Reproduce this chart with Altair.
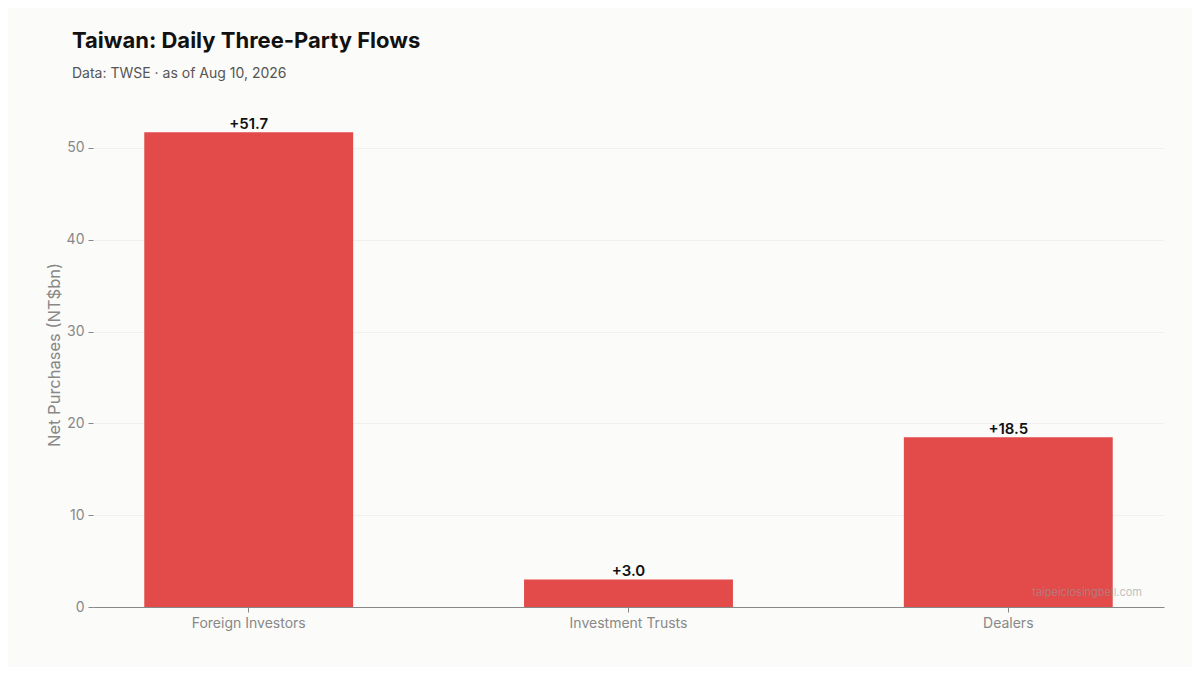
import altair as alt
import pandas as pd

categories = ["Foreign Investors", "Investment Trusts", "Dealers"]
values = [51.7, 3.0, 18.5]

df = pd.DataFrame({"party": categories, "value": values})

W, H = 1071, 505
FONT = "Inter"

base = alt.Chart(df)

bars = base.mark_bar(color="#E34A4A").encode(
    x=alt.X("party:N", sort=categories, title=None,
            scale=alt.Scale(paddingInner=0.45, paddingOuter=0.135),
            axis=alt.Axis(labelAngle=0, labelColor="#888888", labelFontSize=14,
                          labelFont=FONT, tickColor="#888888", tickSize=5,
                          domainColor="#888888", labelPadding=4, grid=False)),
    y=alt.Y("value:Q", title="Net Purchases (NT$bn)",
            scale=alt.Scale(domain=[0, 55], nice=False),
            axis=alt.Axis(values=[0, 10, 20, 30, 40, 50], labelColor="#888888",
                          labelFontSize=14, labelFont=FONT, tickColor="#888888",
                          tickSize=5, domain=False, gridColor="#EEEEEE",
                          gridWidth=0.8, titleColor="#888888", titleFontSize=16.5,
                          titleFont=FONT, titleFontWeight="normal", titlePadding=4,
                          labelPadding=4)),
)

labels = base.mark_text(dy=-3, fontSize=15, fontWeight=600, font=FONT,
                        color="#111111", baseline="alphabetic").encode(
    x=alt.X("party:N", sort=categories),
    y="value:Q",
    text=alt.Text("value:Q", format="+.1f"),
)

wm = alt.Chart(pd.DataFrame({"t": ["taipeiclosingbell.com"]})).mark_text(
    align="right", baseline="alphabetic", fontSize=11, font=FONT,
    color="#999999", opacity=0.6).encode(
    x=alt.value(W - 22), y=alt.value(H - 11), text="t:N")

chart = (bars + labels + wm).properties(
    width=W, height=H,
    background="#FBFBF9",
    padding={"left": 85, "top": 94, "right": 28, "bottom": 60},
    autosize=alt.AutoSizeParams(type="none"),
    title=alt.TitleParams(
        "Taiwan: Daily Three-Party Flows",
        subtitle="Data: TWSE · as of Aug 10, 2026",
        anchor="start", frame="group", dx=-21, offset=20,
        font=FONT, fontSize=22, fontWeight="bold", color="#111111",
        subtitleFont=FONT, subtitleFontSize=14, subtitleColor="#555555",
        subtitlePadding=14),
).configure_view(stroke=None)

chart.save("out.html", embed_options={"renderer": "svg", "actions": False})
